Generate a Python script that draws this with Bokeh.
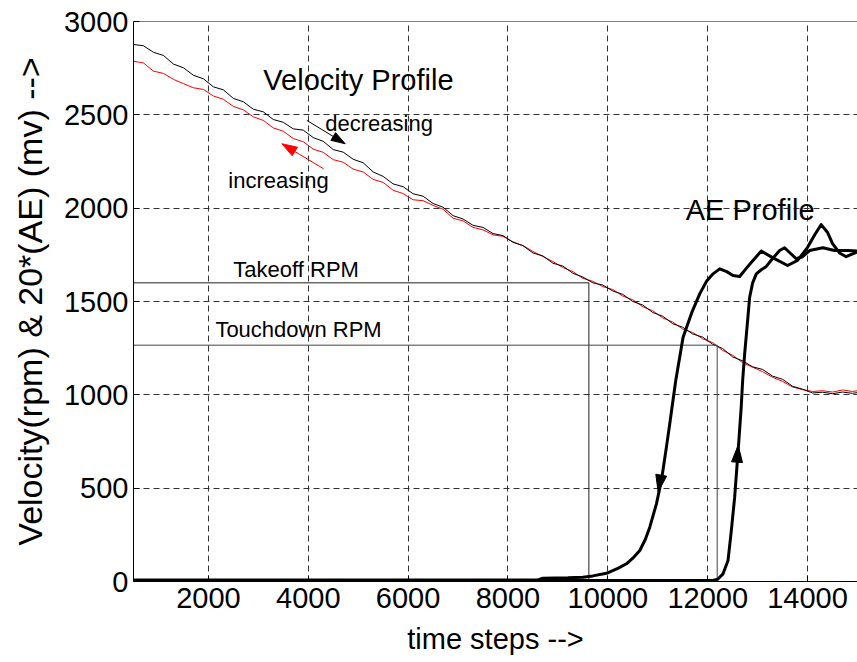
import math
from bokeh.plotting import figure
from bokeh.models import Label, Span, FixedTicker, Range1d
from bokeh.embed import file_html
from bokeh.resources import INLINE

# ---------------- data ----------------
vel_x = [500, 700, 900, 1100, 1300, 1500, 1700, 1900, 2100, 2300, 2500, 2700, 2900,
         3100, 3300, 3500, 3700, 3900, 4100, 4300, 4500, 4700, 4900, 5100, 5300, 5500,
         5700, 5900, 6100, 6300, 6500, 6700, 6900, 7100, 7300, 7500, 7700, 7900, 8100,
         8300, 8500, 8700, 8900, 9100, 9300, 9500, 9700, 9900, 10100, 10300, 10500,
         10700, 10900, 11100, 11300, 11500, 11700, 11900, 12100, 12300, 12500, 12700,
         12900, 13100, 13300, 13500, 13700, 13900, 14100, 14300, 14500, 14700, 14900, 15000]

vel_decreasing = [2877, 2870, 2835, 2818, 2772, 2752, 2712, 2693, 2650, 2634, 2588, 2570, 2530,
                  2516, 2475, 2460, 2425, 2418, 2378, 2358, 2314, 2300, 2262, 2243, 2194, 2170,
                  2130, 2115, 2077, 2064, 2025, 2005, 1960, 1942, 1908, 1897, 1864, 1853, 1817,
                  1799, 1760, 1744, 1705, 1690, 1651, 1631, 1600, 1588, 1556, 1538, 1500,
                  1481, 1441, 1421, 1381, 1362, 1326, 1309, 1271, 1248, 1203, 1182,
                  1150, 1136, 1100, 1083, 1046, 1030, 1010, 1014, 1006, 1015, 1008, 1012]

vel_increasing = [2787, 2778, 2734, 2722, 2690, 2667, 2645, 2636, 2601, 2583, 2545, 2527, 2489,
                  2470, 2430, 2412, 2373, 2356, 2316, 2299, 2260, 2246, 2209, 2194, 2154, 2138,
                  2096, 2078, 2045, 2040, 2015, 1994, 1946, 1932, 1897, 1884, 1857, 1849, 1820,
                  1800, 1768, 1741, 1714, 1682, 1660, 1624, 1608, 1580, 1564, 1529, 1509,
                  1472, 1450, 1412, 1390, 1352, 1334, 1300, 1280, 1238, 1212, 1172,
                  1148, 1124, 1094, 1072, 1042, 1028, 1018, 1022, 1015, 1026, 1018, 1022]

ae1_x = [500, 8600, 8700, 9200, 9500, 9700, 9973, 10200, 10373, 10500, 10640, 10750, 10840,
         10973, 11073, 11173, 11240, 11360, 11507, 11680, 11840, 11980, 12107, 12240, 12380,
         12507, 12640, 12780, 12907, 13073, 13300, 13600, 13800, 14000, 14150, 14273, 14400,
         14500, 14640, 14773, 14900, 15000]
ae1_y = [8, 8, 18, 20, 23, 30, 44, 70, 95, 125, 166, 225, 291,
         416, 541, 720, 845, 1077, 1309, 1440, 1541, 1610, 1648, 1675, 1660,
         1639, 1634, 1680, 1720, 1770, 1735, 1693, 1720, 1790, 1860, 1912, 1870,
         1810, 1760, 1740, 1755, 1765]

ae2_x = [500, 12100, 12200, 12307, 12407, 12473, 12540, 12620, 12670, 12700, 12740, 12800,
         12840, 12900, 12973, 13073, 13173, 13300, 13440, 13540, 13650, 13773, 13900, 14040,
         14307, 14540, 14800, 15000]
ae2_y = [5, 5, 12, 41, 113, 273, 452, 740, 930, 1077, 1220, 1400,
         1523, 1600, 1648, 1670, 1688, 1730, 1773, 1788, 1760, 1729, 1740, 1773,
         1788, 1773, 1773, 1770]

takeoff_rpm = 1600
takeoff_step = 9620
touchdown_rpm = 1266
touchdown_step = 12190

x_ticks = [2000, 4000, 6000, 8000, 10000, 12000, 14000]
y_ticks = [0, 500, 1000, 1500, 2000, 2500, 3000]

X0, X1, Y0, Y1 = 500, 15000, 0, 3000
FRAME_W, FRAME_H = 724, 560
FONT = "Liberation Sans"

p = figure(width=857, height=662, output_backend="svg", toolbar_location=None,
           x_range=Range1d(X0, X1), y_range=Range1d(Y0, Y1),
           min_border_left=133, min_border_right=0, min_border_top=21, min_border_bottom=81)
p.background_fill_color = "white"
p.border_fill_color = "white"
p.outline_line_color = None

# grid
for g in (p.xgrid, p.ygrid):
    g.grid_line_color = "#333333"
    g.grid_line_dash = "6 4"
    g.grid_line_width = 1
p.xgrid.ticker = FixedTicker(ticks=x_ticks)
p.ygrid.ticker = FixedTicker(ticks=y_ticks)

# axes
for ax in (p.xaxis[0], p.yaxis[0]):
    ax.major_label_text_font = FONT
    ax.major_label_text_font_size = "29px"
    ax.major_label_text_color = "black"
    ax.axis_label_text_font = FONT
    ax.axis_label_text_font_size = "29px"
    ax.axis_label_text_font_style = "normal"
    ax.axis_label_text_color = "black"
    ax.axis_line_color = "black"
    ax.major_tick_line_color = "black"
    ax.major_tick_in = 6
    ax.major_tick_out = 0
    ax.minor_tick_line_color = None
p.xaxis.ticker = FixedTicker(ticks=x_ticks)
p.yaxis.ticker = FixedTicker(ticks=y_ticks)
p.xaxis.axis_label = "time steps -->"
p.yaxis.axis_label = "Velocity(rpm) & 20*(AE) (mv) -->"
p.yaxis.axis_label_text_font_size = "34px"
p.xaxis.major_label_standoff = 6
p.xaxis.axis_label_standoff = 12
p.yaxis.major_label_standoff = 5
p.yaxis.axis_label_standoff = 12

# top border
p.add_layout(Span(location=Y1, dimension="width", line_color="black", line_width=1))

# velocity profiles
p.line(vel_x, vel_increasing, line_color="red", line_width=1)
p.line(vel_x, vel_decreasing, line_color="black", line_width=1)

# reference lines
p.line([X0, takeoff_step, takeoff_step], [takeoff_rpm, takeoff_rpm, 0], line_color="#222222", line_width=1)
p.line([X0, touchdown_step, touchdown_step], [touchdown_rpm, touchdown_rpm, 0], line_color="#444444", line_width=1)

# AE profiles
p.line(ae1_x, ae1_y, line_color="black", line_width=3, line_join="round")
p.line(ae2_x, ae2_y, line_color="black", line_width=3, line_join="round")

# narrow arrow heads (computed in screen space from the arrow's start/end)
SX = FRAME_W / (X1 - X0)
SY = FRAME_H / (Y1 - Y0)

def arrow(xs, ys, xe, ye, color, length, half, shaft_width=None):
    dx, dy = (xe - xs) * SX, (ye - ys) * SY
    L = math.hypot(dx, dy)
    ux, uy = dx / L, dy / L
    bx, by = -ux * length, -uy * length
    px, py = -uy * half, ux * half
    hx = [xe, xe + (bx + px) / SX, xe + (bx - px) / SX]
    hy = [ye, ye + (by + py) / SY, ye + (by - py) / SY]
    if shaft_width:
        p.line([xs, xe + bx / SX], [ys, ye + by / SY], line_color=color, line_width=shaft_width)
    p.patch(hx, hy, fill_color=color, line_color=color, line_width=1)

arrow(3973, 2470, 4740, 2345, "black", 14, 4.5, shaft_width=1)
arrow(4307, 2211, 3473, 2345, "red", 15, 5, shaft_width=1)
arrow(11173, 720, 11007, 480, "black", 17, 5.5)
arrow(12540, 452, 12610, 730, "black", 17, 5.5)

# labels
def lab(x, y, t, size, baseline="middle"):
    p.add_layout(Label(x=x, y=y, text=t, text_font=FONT, text_font_size=size,
                       text_color="black", text_baseline=baseline, text_align="left"))

lab(3100, 2684, "Velocity Profile", "29px")
lab(4340, 2454, "decreasing", "22px")
lab(2400, 2148, "increasing", "22px")
lab(11560, 1988, "AE Profile", "29px")
lab(2500, 1603, "Takeoff RPM", "22px", "bottom")
lab(2140, 1285, "Touchdown RPM", "22px", "bottom")

open("out.html", "w").write(file_html(p, INLINE))
